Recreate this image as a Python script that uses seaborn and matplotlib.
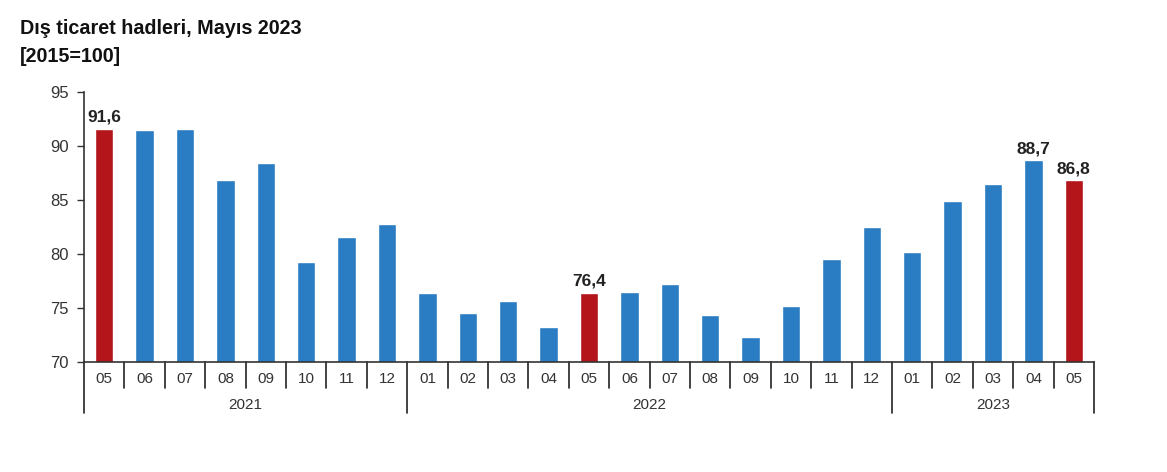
import matplotlib
matplotlib.use("Agg")
import matplotlib.pyplot as plt
import matplotlib.transforms as mtransforms
import seaborn as sns
import pandas as pd

years = ["2021"] * 8 + ["2022"] * 12 + ["2023"] * 5
months = ["05", "06", "07", "08", "09", "10", "11", "12",
          "01", "02", "03", "04", "05", "06", "07", "08", "09", "10", "11", "12",
          "01", "02", "03", "04", "05"]
values = [91.6, 91.5, 91.6, 86.8, 88.4, 79.2, 81.6, 82.8,
          76.4, 74.5, 75.6, 73.2, 76.4, 76.5, 77.2, 74.3, 72.3, 75.2, 79.5, 82.5,
          80.2, 84.9, 86.5, 88.7, 86.8]
highlight = [0, 12, 24]
labelled = [0, 12, 23, 24]

BLUE = "#2a7dc2"
RED = "#b3151b"

df = pd.DataFrame({"key": [f"{y}-{m}" for y, m in zip(years, months)],
                   "month": months, "year": years, "value": values})
df["kind"] = ["h" if i in highlight else "n" for i in range(len(df))]

sns.set_theme(style="white")
plt.rcParams["font.family"] = ["Liberation Sans", "DejaVu Sans"]

fig = plt.figure(figsize=(11.67, 4.72), dpi=100)
ax = fig.add_axes([84 / 1167, 1 - 361.7 / 472, 1010 / 1167, 269.7 / 472])

sns.barplot(data=df, x="key", y="value", hue="kind",
            palette={"h": RED, "n": BLUE}, dodge=False, width=0.46,
            legend=False, ax=ax, saturation=1)

ax.set_ylim(70, 95)
ax.set_xlim(-0.5, len(df) - 0.5)
ax.set_yticks([70, 75, 80, 85, 90, 95])
ax.set_xlabel("")
ax.set_ylabel("")
ax.set_xticks([])
for s in ["top", "right"]:
    ax.spines[s].set_visible(False)
for s in ["left", "bottom"]:
    ax.spines[s].set_color("#333333")
    ax.spines[s].set_linewidth(1.2)
ax.tick_params(axis="y", direction="out", length=5, width=1, color="#333333",
               labelsize=12, labelcolor="#333333", pad=6, left=True)

# value labels
for i in labelled:
    ax.text(i, values[i] + 0.35, f"{values[i]:.1f}".replace(".", ","),
            ha="center", va="bottom", fontsize=12.5, fontweight="bold", color="#222222")

# month labels and separators
trans = mtransforms.blended_transform_factory(ax.transData, ax.transAxes)
short = 26 / 269.7
long_ = 51 / 269.7
for i, m in enumerate(months):
    ax.text(i, -17.5 / 269.7, m, transform=trans, ha="center", va="center",
            fontsize=11, color="#333333")
boundaries = [0] + [i for i in range(1, len(years)) if years[i] != years[i - 1]] + [len(years)]
for b in range(len(years) + 1):
    length = long_ if b in boundaries else short
    ax.plot([b - 0.5, b - 0.5], [0, -length], transform=trans, color="#222222",
            lw=1.2, clip_on=False)
for a, b in zip(boundaries[:-1], boundaries[1:]):
    ax.text((a + b - 1) / 2, -43 / 269.7, years[a], transform=trans, ha="center",
            va="center", fontsize=11, color="#333333")

fig.text(20 / 1167, 1 - 28 / 472, "Dış ticaret hadleri, Mayıs 2023", ha="left",
         va="center", fontsize=14.2, fontweight="bold", color="#111111")
fig.text(20 / 1167, 1 - 57 / 472, "[2015=100]", ha="left", va="center",
         fontsize=14.2, fontweight="bold", color="#111111")

fig.savefig("out.png", dpi=100)
